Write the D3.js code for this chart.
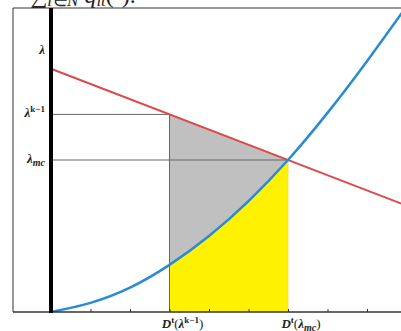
<!DOCTYPE html>
<html>
<head>
<meta charset="utf-8">
<script src="https://cdn.jsdelivr.net/npm/d3@7"></script>
<style>
  body { margin: 0; background: #fff; }
  svg { display: block; }
  .lab { font-family: "Liberation Serif", "DejaVu Serif", serif; font-weight: bold; font-size: 13px; fill: #222; }
</style>
</head>
<body>
<div id="chart"></div>
<script>
// demand curve D^t (blue)
var demandX = [0, 1, 2, 3, 4, 5, 6, 7, 8, 9];
var demandY = [0, 0.3, 0.8, 1.55, 2.5, 3.65, 5.0, 6.55, 8.25, 10.05];
// price line (red)
var priceX = [0, 9];
var priceY = [8, 3.5];
// marked quantities / prices
var qK = 3, qMc = 6;
var lamK = 6.5, lamMc = 5, lamTop = 8.6;
var xTicks = [1, 2, 3, 4, 5, 6, 7, 8];

var W = 401, H = 331;
var frame = { left: 13, top: 8, right: 402, bottom: 312 };

var svg = d3.select("#chart").append("svg")
  .attr("width", W).attr("height", H);

var x = d3.scaleLinear().domain([0, 9]).range([51, 406.5]);
var y = d3.scaleLinear().domain([0, 10]).range([312, 8]);

var defs = svg.append("defs");
defs.append("clipPath").attr("id", "plot")
  .append("rect").attr("x", frame.left).attr("y", frame.top)
  .attr("width", frame.right - frame.left).attr("height", frame.bottom - frame.top);
defs.append("clipPath").attr("id", "band")
  .append("rect").attr("x", x(qK)).attr("y", frame.top)
  .attr("width", x(qMc) - x(qK)).attr("height", frame.bottom - frame.top);

var demand = demandX.map((d, i) => ({ q: d, p: demandY[i] }));
var priceAt = q => priceY[0] + (priceY[1] - priceY[0]) * (q - priceX[0]) / (priceX[1] - priceX[0]);

// top text fragment (cut off by the page edge, as in the source)
var headText = svg.append("text")
  .attr("x", 8).attr("y", 3)
  .style("font-family", "Liberation Serif, serif")
  .style("font-style", "italic")
  .style("font-size", "24px")
  .style("fill", "#222");
headText.append("tspan").text("= ");
headText.append("tspan").style("font-style", "normal").text("\u2211");
headText.append("tspan").attr("dy", 3).style("font-size", "17px").text("i\u2208N");
headText.append("tspan").attr("dy", -3).text(" q");
headText.append("tspan").attr("dy", 3).style("font-size", "17px").text("it");
headText.append("tspan").attr("dy", -3).style("font-style", "normal").text("(\u00b7).");

var plot = svg.append("g").attr("clip-path", "url(#plot)");
var curve = d3.curveNatural;

// gray: between price line and demand curve
plot.append("path")
  .attr("clip-path", "url(#band)")
  .attr("fill", "#c0c0c0")
  .attr("d", d3.area().curve(curve)
    .x(d => x(d.q))
    .y0(d => y(d.p))
    .y1(d => y(priceAt(d.q)))(demand));

// yellow: under demand curve
plot.append("path")
  .attr("clip-path", "url(#band)")
  .attr("fill", "#fff200")
  .attr("d", d3.area().curve(curve)
    .x(d => x(d.q)).y0(y(0)).y1(d => y(d.p))(demand));

// guide lines
plot.append("line")
  .attr("x1", x(0)).attr("x2", x(qK)).attr("y1", y(lamK)).attr("y2", y(lamK))
  .attr("stroke", "#666").attr("stroke-width", 1);
plot.append("line")
  .attr("x1", x(0)).attr("x2", x(qMc)).attr("y1", y(lamMc)).attr("y2", y(lamMc))
  .attr("stroke", "#666").attr("stroke-width", 1);
plot.append("line")
  .attr("x1", x(qK)).attr("x2", x(qK)).attr("y1", y(lamK)).attr("y2", y(0))
  .attr("stroke", "#666").attr("stroke-width", 1);
plot.append("line")
  .attr("x1", x(qMc)).attr("x2", x(qMc)).attr("y1", y(lamMc)).attr("y2", y(0))
  .attr("stroke", "#e6dc7a").attr("stroke-width", 1);

// price line
plot.append("path")
  .attr("fill", "none").attr("stroke", "#dc4a4c").attr("stroke-width", 2)
  .attr("d", d3.line().x((d, i) => x(d)).y((d, i) => y(priceY[i]))(priceX));

// demand curve
plot.append("path")
  .attr("fill", "none").attr("stroke", "#2a8ad6").attr("stroke-width", 2.5)
  .attr("d", d3.line().curve(curve).x(d => x(d.q)).y(d => y(d.p))(demand));

// frame
svg.append("line").attr("x1", frame.left).attr("x2", frame.right)
  .attr("y1", frame.top).attr("y2", frame.top).attr("stroke", "#333").attr("stroke-width", 1);
svg.append("line").attr("x1", frame.left).attr("x2", frame.left)
  .attr("y1", frame.top).attr("y2", frame.bottom).attr("stroke", "#333").attr("stroke-width", 1);

// bottom axis with small inward ticks
var xAxis = svg.append("g")
  .attr("transform", "translate(0," + y(0) + ")")
  .call(d3.axisTop(x).tickValues(xTicks).tickSize(3).tickFormat(""));
xAxis.select(".domain").remove();
xAxis.selectAll(".tick line").attr("stroke", "#333");
svg.append("line").attr("x1", frame.left).attr("x2", frame.right)
  .attr("y1", y(0)).attr("y2", y(0)).attr("stroke", "#333").attr("stroke-width", 1.5);

// thick y axis
svg.append("line").attr("x1", x(0)).attr("x2", x(0))
  .attr("y1", frame.top).attr("y2", y(0) + 1).attr("stroke", "#000").attr("stroke-width", 4);

// y labels
function lam(g, sup, sub) {
  g.append("tspan").style("font-style", "italic").text("\u03bb");
  if (sup) g.append("tspan").attr("dy", -5).style("font-size", "9px").text(sup);
  if (sub) g.append("tspan").attr("dy", 3).style("font-size", "10px").style("font-style", "italic").text(sub);
}
var yl = [
  { v: lamTop, sup: null, sub: null },
  { v: lamK, sup: "k\u22121", sub: null },
  { v: lamMc, sup: null, sub: "mc" }
];
yl.forEach(function(d) {
  var t = svg.append("text").attr("class", "lab")
    .attr("x", 45).attr("y", y(d.v) + 3).attr("text-anchor", "end");
  lam(t, d.sup, d.sub);
});

// x labels
function dLabel(q, sup, sub) {
  var t = svg.append("text").attr("class", "lab")
    .attr("x", x(q) + 13).attr("y", 328).attr("text-anchor", "middle");
  t.append("tspan").style("font-style", "italic").text("D");
  t.append("tspan").attr("dy", -5).style("font-size", "9px").text("t");
  t.append("tspan").attr("dy", 5).style("font-weight", "normal").text("(");
  t.append("tspan").style("font-style", "italic").text("\u03bb");
  if (sup) t.append("tspan").attr("dy", -5).style("font-size", "9px").text(sup);
  if (sub) t.append("tspan").attr("dy", 3).style("font-size", "10px").style("font-style", "italic").text(sub);
  t.append("tspan").attr("dy", sup ? 5 : -3).style("font-weight", "normal").text(")");
}
dLabel(qK, "k\u22121", null);
dLabel(qMc, null, "mc");
</script>
</body>
</html>
